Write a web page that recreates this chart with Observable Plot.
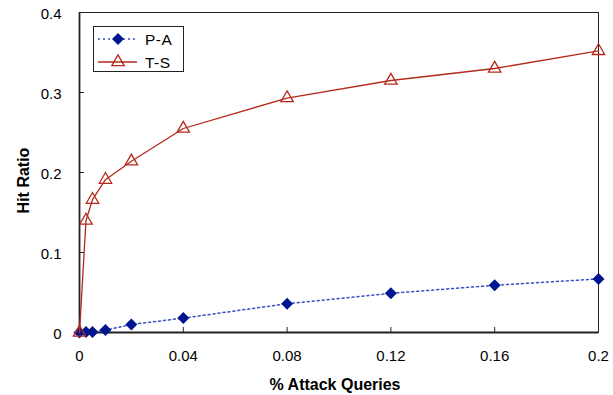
<!DOCTYPE html>
<html><head><meta charset="utf-8">
<script src="https://cdn.jsdelivr.net/npm/d3@7"></script>
<script src="https://cdn.jsdelivr.net/npm/@observablehq/plot@0.6"></script>
<style>
body{margin:0;background:#fff;}
#wrap{position:relative;width:613px;height:395px;font-family:"Liberation Sans",Arial,sans-serif;}
#legend{position:absolute;left:93px;top:26px;}
</style></head><body><div id="wrap"></div>
<script>
const xValues = [0, 0.0025, 0.005, 0.01, 0.02, 0.04, 0.08, 0.12, 0.16, 0.2];
const paValues = [0, 0.0005, 0.0005, 0.003, 0.01, 0.018, 0.036, 0.049, 0.059, 0.067];
const tsValues = [0, 0.14, 0.166, 0.191, 0.214, 0.255, 0.293, 0.315, 0.33, 0.352];
const seriesNames = ["P-A", "T-S"];
const xTicks = [0, 0.04, 0.08, 0.12, 0.16, 0.2];
const xTickLabels = ["0", "0.04", "0.08", "0.12", "0.16", "0.2"];
const yTicks = [0, 0.1, 0.2, 0.3, 0.4];
const yTickLabels = ["0", "0.1", "0.2", "0.3", "0.4"];
const xTitle = "% Attack Queries";
const yTitle = "Hit Ratio";

const paColor = "#00168f", paLine = "#3a4fc0", tsColor = "#b52a1c";
const rDiamond = 5.4, rTri = 4.6;

const pa = xValues.map((x, i) => ({x, y: paValues[i]}));
const ts = xValues.map((x, i) => ({x, y: tsValues[i]}));

const chart = Plot.plot({
  width: 613, height: 395,
  marginLeft: 79, marginRight: 15, marginTop: 12, marginBottom: 63,
  style: {fontFamily: "Liberation Sans, Arial, sans-serif", fontSize: "15px", background: "white", color: "#000"},
  x: {domain: [0, 0.2]},
  y: {domain: [0, 0.4]},
  marks: [
    Plot.frame({stroke: "#222", strokeWidth: 1}),
    Plot.axisX(xTicks, {tickSize: 0, tickPadding: 18, tickFormat: d => xTickLabels[xTicks.indexOf(d)], label: null, fontSize: 15, letterSpacing: 0.6}),
    Plot.axisY(yTicks, {tickSize: 0, tickPadding: 18, tickFormat: d => yTickLabels[yTicks.indexOf(d)], label: null, fontSize: 15, dy: 1.5, letterSpacing: 0.6}),
    Plot.ruleX(xTicks, {x: d => d, y1: 0, y2: 0, insetBottom: 5, stroke: "#222"}),
    Plot.ruleY(yTicks, {y: d => d, x1: 0, x2: 0, insetRight: -5, stroke: "#222"}),
    Plot.ruleX([0], {stroke: "#222", strokeWidth: 1.8}),
    Plot.ruleY([0], {stroke: "#222", strokeWidth: 1.8}),
    Plot.line(pa, {x: "x", y: "y", stroke: paLine, strokeWidth: 1.5, strokeDasharray: "2,3"}),
    Plot.dot(pa, {x: "x", y: "y", symbol: "diamond2", r: rDiamond, fill: paColor, stroke: "none"}),
    Plot.line(ts, {x: "x", y: "y", stroke: tsColor, strokeWidth: 1.3}),
    Plot.dot(ts, {x: "x", y: "y", symbol: "triangle", r: rTri, fill: "none", stroke: tsColor, strokeWidth: 1.3}),
    Plot.text([yTitle], {text: d => d, frameAnchor: "left", rotate: -90, dx: -51, dy: 8, lineAnchor: "bottom", textAnchor: "middle", fontWeight: "bold", fontSize: 16, letterSpacing: 0.3}),
    Plot.text([xTitle], {text: d => d, frameAnchor: "bottom", dx: -4, dy: 57, lineAnchor: "bottom", textAnchor: "middle", fontWeight: "bold", fontSize: 16, letterSpacing: 0.35})
  ]
});
const wrap = document.getElementById("wrap");
wrap.appendChild(chart);

// legend overlay
const lg = d3.select(wrap).append("svg").attr("id", "legend").attr("width", 92).attr("height", 47);
lg.append("rect").attr("x", 0.5).attr("y", 0.5).attr("width", 90).attr("height", 45).attr("fill", "white").attr("stroke", "#222");
const rows = [
  {name: seriesNames[0], y: 13, line: paLine, dash: "2,3", sym: d3.symbolDiamond2, r: rDiamond, fill: paColor, stroke: "none", sw: 1.5},
  {name: seriesNames[1], y: 36, line: tsColor, dash: null, sym: d3.symbolTriangle, r: rTri, fill: "none", stroke: tsColor, sw: 1.3}
];
for (const row of rows) {
  lg.append("line").attr("x1", 5).attr("x2", 44).attr("y1", row.y).attr("y2", row.y)
    .attr("stroke", row.line).attr("stroke-width", row.sw).attr("stroke-dasharray", row.dash);
  lg.append("path").attr("d", d3.symbol(row.sym, Math.PI * row.r * row.r)())
    .attr("transform", `translate(25,${row.y})`).attr("fill", row.fill).attr("stroke", row.stroke).attr("stroke-width", 1.3);
  lg.append("text").attr("x", 52).attr("y", row.y + 5.5).text(row.name)
    .attr("font-family", "Liberation Sans, Arial, sans-serif").attr("font-size", 15.5).attr("letter-spacing", 0.5);
}
</script>
</body></html>
